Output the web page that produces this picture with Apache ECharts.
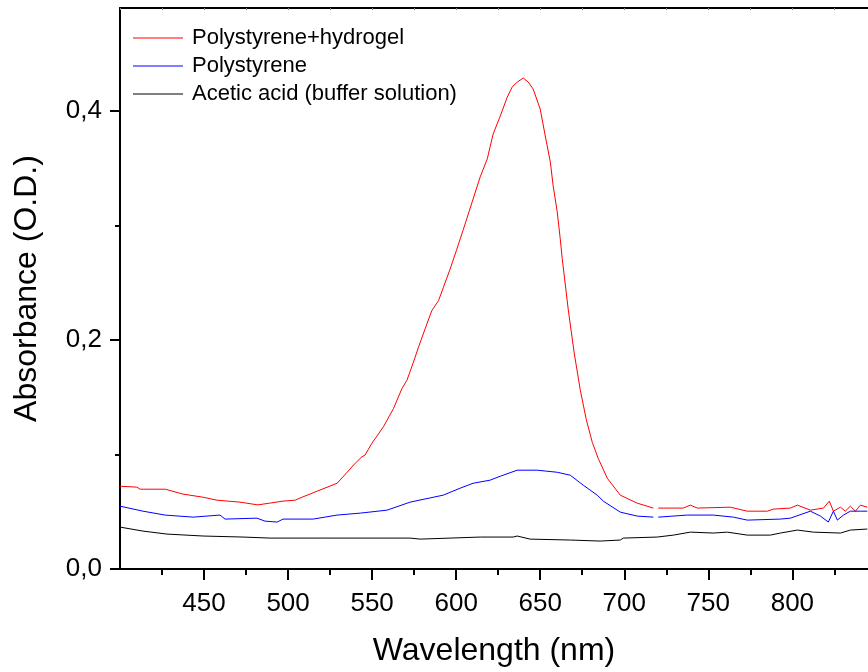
<!DOCTYPE html>
<html>
<head>
<meta charset="utf-8">
<script src="https://cdn.jsdelivr.net/npm/echarts@6/dist/echarts.min.js"></script>
<style>
  html, body { margin: 0; padding: 0; background: #fff; }
  #main { width: 868px; height: 672px; }
</style>
</head>
<body>
<div id="main"></div>
<script>
// ====================== data ======================
var seriesNames = ['Polystyrene+hydrogel', 'Polystyrene', 'Acetic acid (buffer solution)'];

var redNm = [400, 410, 412, 427, 437.5, 449.4, 457.7, 471.4, 482, 489, 497, 504.2, 508.3, 517.3, 529.2, 539.9,
    543.9, 545.8, 549.8, 556.7, 562.7, 567.7, 570.7, 574.6, 577.6, 581.5, 585.5, 589.5, 592.4, 596.4, 600.4, 604.3,
    614.3, 618.5, 622, 626.2, 630.4, 633.3, 636.3, 639.9, 642.9, 645.8, 650, 653, 656, 657.7, 660.1, 661.9, 663.1,
    666.7, 670.2, 673.8, 677.4, 681, 684.5, 689.9, 697.6, 707.7, 717.3, 718.8, 720.2, 735.1, 739.3, 743.5, 763.1,
    773.2, 785.1, 788.7, 798.8, 803, 810.7, 818.5, 822, 824.4, 828.6, 831.5, 834.5, 837.5, 840.5, 844.6];
var redAbs = [.0723, .0715, .0697, .0697, .0654, .0627, .0601, .0584, .056, .0575, .0593, .0601, .0627, .068, .0749, .0923,
    .098, .0995, .1097, .1242, .1401, .1575, .1648, .1808, .1938, .2097, .2257, .2344, .246, .262, .2794, .2968,
    .3425, .3582, .380, .3956, .4122, .4209, .4253, .4288, .4253, .4192, .4017, .3782, .3556, .3346, .312, .2885, .271,
    .2263, .1888, .1566, .1305, .1105, .0966, .0793, .0645, .0575, .0532, null, .0532, .0532, .0558, .0532, .054,
    .0505, .0505, .0523, .0532, .0558, .0514, .0532, .0593, .0505, .054, .0505, .0549, .0505, .0558, .054];

var blueNm = [400, 413.7, 426.8, 443.5, 459.5, 462.5, 481.5, 486.3, 493.5, 497, 514.9, 529.2, 542.9, 558.9, 572.6,
    592.3, 602.4, 610.1, 620.2, 626.2, 636.3, 648.2, 660.1, 667.9, 675.6, 683.9, 687.5, 697.6, 707.7, 717.3, 718.8,
    720.2, 737.5, 753, 764.9, 773.2, 792.9, 798.8, 810.7, 816.7, 821.4, 824.4, 826.8, 830.4, 834.5, 840.5, 844.6];
var blueAbs = [.0549, .0505, .0471, .0453, .0471, .0436, .0444, .0418, .041, .0436, .0436, .0471, .0488, .0514, .0584,
    .0645, .0706, .0749, .0776, .081, .0863, .0863, .0845, .0819, .0732, .0645, .0593, .0497, .0462, .0453, null,
    .0453, .0471, .0471, .0453, .0427, .0436, .0444, .0505, .0462, .041, .0505, .0427, .0471, .0505, .0505, .0505];

var blackNm = [400, 413.7, 428, 449.4, 473.2, 489.3, 523.2, 572.6, 578.6, 614.3, 633.9, 636.3, 644, 667.9, 685.7,
    697.6, 699.4, 719.6, 729.2, 739.3, 753, 761.3, 773.2, 786.9, 792.9, 803, 812.5, 828.6, 834.5, 844.6];
var blackAbs = [.0366, .0331, .0305, .0288, .0279, .027, .027, .027, .0261, .0279, .0279, .0288, .0261, .0253, .0244,
    .0253, .027, .0279, .0296, .0322, .0314, .0322, .0296, .0296, .0314, .034, .0322, .0314, .034, .0349];

var xTicks = [450, 500, 550, 600, 650, 700, 750, 800];
var yTicks = [0, 0.2, 0.4];

// ====================== build pairs ======================
function zip(xs, ys) {
    var out = [];
    for (var i = 0; i < xs.length; i++) {
        out.push([xs[i], ys[i] === null ? '-' : ys[i]]);
    }
    return out;
}

var font = 'Liberation Sans';
var chart = echarts.init(document.getElementById('main'));

var option = {
    backgroundColor: '#fff',
    animation: false,
    textStyle: { fontFamily: font },
    grid: { left: 120, right: 0, top: 8, bottom: 101 },
    legend: {
        orient: 'vertical',
        left: 128,
        top: 22,
        icon: 'rect',
        itemWidth: 50,
        itemHeight: 1,
        itemGap: 6,
        data: seriesNames,
        textStyle: { fontFamily: font, fontSize: 22, color: '#000', lineHeight: 22, padding: [0, 0, 0, 4] }
    },
    xAxis: [{
        type: 'value',
        min: 400,
        max: 845,
        interval: 50,
        name: 'Wavelength (nm)',
        nameLocation: 'middle',
        nameGap: 66,
        nameTextStyle: { fontFamily: font, fontSize: 32, color: '#000' },
        splitLine: { show: false },
        axisLine: { lineStyle: { color: '#000', width: 2 } },
        axisTick: { length: 11, lineStyle: { color: '#000', width: 2 }, customValues: xTicks },
        minorTick: { show: true, splitNumber: 2, length: 6, lineStyle: { color: '#000', width: 2 } },
        axisLabel: { fontFamily: font, fontSize: 26, color: '#000', margin: 22, customValues: xTicks }
    }, {
        type: 'value',
        position: 'top',
        min: 400,
        max: 845,
        interval: 25,
        splitLine: { show: false },
        axisLine: { onZero: false, lineStyle: { color: '#000', width: 2 } },
        axisTick: { inside: true, length: 2, lineStyle: { color: '#888', width: 1 } },
        axisLabel: { show: false }
    }],
    yAxis: {
        type: 'value',
        min: 0,
        max: 0.49,
        interval: 0.2,
        name: 'Absorbance (O.D.)',
        nameLocation: 'middle',
        nameGap: 77,
        nameTextStyle: { fontFamily: font, fontSize: 32, color: '#000' },
        splitLine: { show: false },
        axisLine: { lineStyle: { color: '#000', width: 2 } },
        axisTick: { length: 10, lineStyle: { color: '#000', width: 2 }, customValues: yTicks },
        minorTick: { show: true, splitNumber: 2, length: 5, lineStyle: { color: '#000', width: 2 } },
        axisLabel: {
            fontFamily: font, fontSize: 26, color: '#000', margin: 18, customValues: yTicks,
            formatter: function (v) { return v.toFixed(1).replace('.', ','); }
        }
    },
    series: [{
        name: seriesNames[0],
        type: 'line',
        symbol: 'none',
        connectNulls: false,
        data: zip(redNm, redAbs),
        lineStyle: { color: '#ff0000', width: 1 },
        itemStyle: { color: '#ff0000' }
    }, {
        name: seriesNames[1],
        type: 'line',
        symbol: 'none',
        connectNulls: false,
        data: zip(blueNm, blueAbs),
        lineStyle: { color: '#0000ff', width: 1 },
        itemStyle: { color: '#0000ff' }
    }, {
        name: seriesNames[2],
        type: 'line',
        symbol: 'none',
        data: zip(blackNm, blackAbs),
        lineStyle: { color: '#000000', width: 1 },
        itemStyle: { color: '#000000' }
    }]
};

chart.setOption(option);
</script>
</body>
</html>
